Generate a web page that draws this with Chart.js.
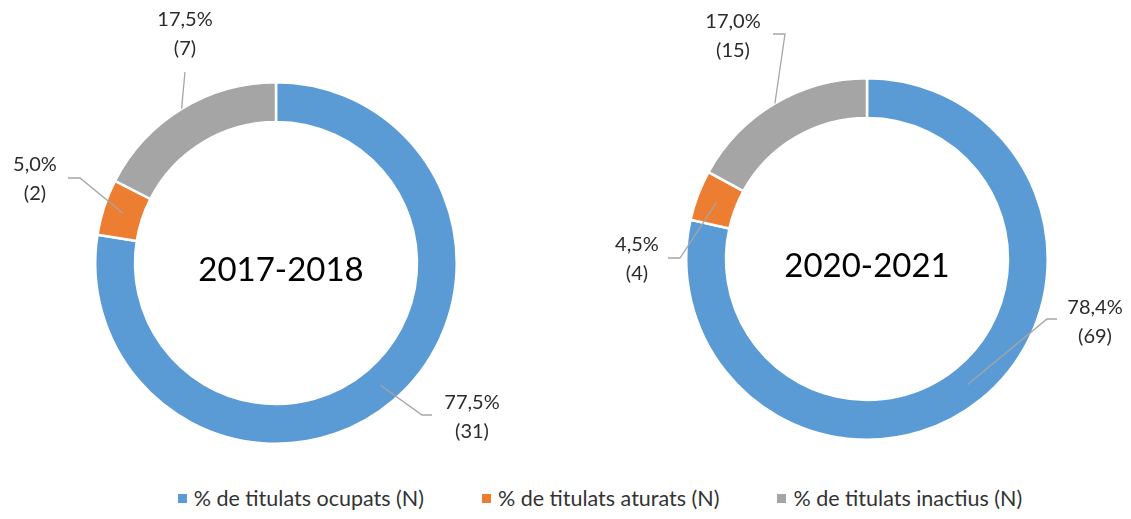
<!DOCTYPE html>
<html>
<head>
<meta charset="utf-8">
<script src="https://cdn.jsdelivr.net/npm/chart.js@4.4.0/dist/chart.umd.min.js"></script>
<style>
  body { margin: 0; background: #fff; width: 1131px; height: 519px; overflow: hidden; font-family: Lato, sans-serif; }
  .wrap { position: absolute; top: 0; height: 470px; }
  #legend { position: absolute; left: 0; top: 485px; width: 1200px; display: flex; justify-content: center; font-size: 21.5px; color: #333; }
  #legend span.item { display: flex; align-items: center; margin: 0 29px; white-space: nowrap; }
  #legend span.box { display: inline-block; width: 9px; height: 9px; margin-right: 7px; }
</style>
</head>
<body>
<div class="wrap" style="left:0;width:565px"><canvas id="chartA"></canvas></div>
<div class="wrap" style="left:565px;width:566px"><canvas id="chartB"></canvas></div>
<div id="legend"></div>
<script>
// categories and values
var categories = ["% de titulats ocupats (N)", "% de titulats aturats (N)", "% de titulats inactius (N)"];
var colors = ["#5B9BD5", "#ED7D31", "#A5A5A5"];
var periods = ["2017-2018", "2020-2021"];
var pct2017 = [77.5, 5.0, 17.5];
var n2017 = [31, 2, 7];
var pct2020 = [78.4, 4.5, 17.0];
var n2020 = [69, 4, 15];

// where the labels sit, relative to the doughnut centre (text x,y / line start x,y / elbow / line end on ring)
var labelsA = [
  { tx: 196, ty: 140, lx: 156, ly: 152, elbow: -10, reach: "mid" },
  { tx: -241, ty: -98, lx: -208, ly: -85, elbow: 12, reach: "mid" },
  { tx: -91, ty: -243, lx: -91, ly: -191, elbow: 0, reach: "outer" }
];
var labelsB = [
  { tx: 228, ty: 49, lx: 190, ly: 60, elbow: -10, reach: "mid" },
  { tx: -230, ty: -14, lx: -199, ly: -1, elbow: 12, reach: "mid" },
  { tx: -134, ty: -237, lx: -94, ly: -225, elbow: 12, reach: "outer" }
];

function fmt(v) {
  return v.toFixed(1).replace(".", ",") + "%";
}

var labelPlugin = {
  id: "sliceLabels",
  afterDatasetsDraw: function(chart) {
    var ctx = chart.ctx;
    var meta = chart.getDatasetMeta(0);
    var opts = chart.options.plugins.sliceLabels;
    var ds = chart.data.datasets[0];
    var cx = meta.data[0].x, cy = meta.data[0].y;
    ctx.save();
    // centre title
    ctx.fillStyle = "#000";
    ctx.font = "33px Lato";
    ctx.textAlign = "center";
    ctx.textBaseline = "middle";
    ctx.fillText(opts.title, cx + opts.titleDx, cy + 7);

    ctx.font = "20px Lato";
    ctx.fillStyle = "#2b2b2b";
    ctx.strokeStyle = "#A5A5A5";
    ctx.lineWidth = 1.3;
    for (var i = 0; i < meta.data.length; i++) {
      var arc = meta.data[i];
      var L = opts.layout[i];
      var mid = (arc.startAngle + arc.endAngle) / 2;
      var r = L.reach == "outer" ? arc.outerRadius : (arc.innerRadius + arc.outerRadius) / 2;
      var ex = cx + Math.cos(mid) * r, ey = cy + Math.sin(mid) * r;
      ctx.beginPath();
      ctx.moveTo(cx + L.lx, cy + L.ly);
      ctx.lineTo(cx + L.lx + L.elbow, cy + L.ly);
      ctx.lineTo(ex, ey);
      ctx.stroke();
      ctx.fillText(fmt(ds.data[i]), cx + L.tx, cy + L.ty);
      ctx.fillText("(" + opts.counts[i] + ")", cx + L.tx, cy + L.ty + 29);
    }
    ctx.restore();
  }
};

function makeChart(id, values, counts, title, layout, pad, titleDx) {
  return new Chart(document.getElementById(id), {
    type: "doughnut",
    data: {
      labels: categories,
      datasets: [{
        data: values,
        backgroundColor: colors,
        borderColor: "#fff",
        borderWidth: 2.5
      }]
    },
    options: {
      responsive: true,
      maintainAspectRatio: false,
      animation: false,
      cutout: "78%",
      layout: { padding: pad },
      plugins: {
        legend: { display: false },
        tooltip: { enabled: false },
        sliceLabels: { title: title, counts: counts, layout: layout, titleDx: titleDx }
      }
    },
    plugins: [labelPlugin]
  });
}

makeChart("chartA", pct2017, n2017, periods[0], labelsA, { left: 94, top: 81, right: 107, bottom: 25 }, 5);
makeChart("chartB", pct2020, n2020, periods[1], labelsB, { left: 120, top: 77, right: 82, bottom: 29 }, 0);

// legend
var leg = document.getElementById("legend");
for (var i = 0; i < categories.length; i++) {
  var item = document.createElement("span");
  item.className = "item";
  var box = document.createElement("span");
  box.className = "box";
  box.style.background = colors[i];
  item.appendChild(box);
  item.appendChild(document.createTextNode(categories[i]));
  leg.appendChild(item);
}
</script>
</body>
</html>
